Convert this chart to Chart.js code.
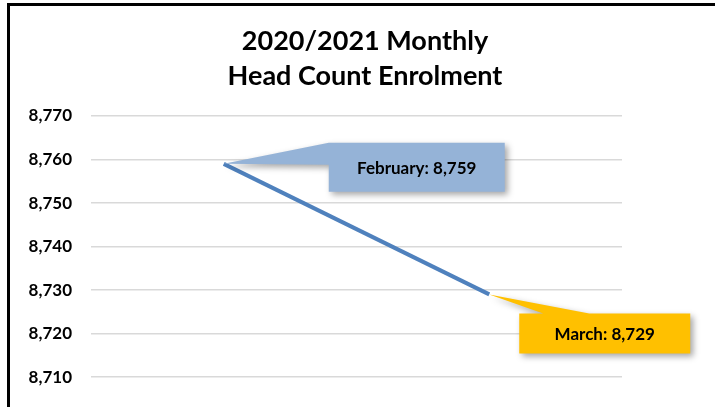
<!DOCTYPE html>
<html>
<head>
<meta charset="utf-8">
<script src="https://cdn.jsdelivr.net/npm/chart.js@4.4.0/dist/chart.umd.min.js"></script>
<style>
  html, body { margin: 0; padding: 0; background: #fff; overflow: hidden; }
  #wrap { position: relative; width: 715px; height: 457px; }
  #frame {
    position: absolute; left: 7px; top: 3px; width: 800px; height: 600px;
    border-left: 3px solid #000; border-top: 3px solid #000; pointer-events: none;
  }
</style>
</head>
<body>
<div id="wrap">
  <canvas id="chart" width="715" height="457"></canvas>
  <div id="frame"></div>
</div>
<script>
// chart data
const months = ['February', 'March'];
const headCount = [8759, 8729];
const yTicks = [8700, 8710, 8720, 8730, 8740, 8750, 8760, 8770];
const titleLines = ['2020/2021 Monthly', 'Head Count Enrolment'];

const FONT = 'Lato, "Open Sans", sans-serif';

// callout boxes next to each point (offsets from the point, style only)
const calloutStyle = [
    { fill: '#95B3D7', dx: 105, dy: -21, w: 176, h: 49, wedge: 'left', base: [0, 22] },
    { fill: '#FFC000', dx: 30, dy: 19, w: 171, h: 40, wedge: 'top', base: [24, 70] }
];

// title drawn over the whole canvas width (Excel centres it on the chart, not the plot)
const titlePlugin = {
    id: 'bigTitle',
    afterDraw(chart) {
        const ctx = chart.ctx;
        ctx.save();
        ctx.fillStyle = '#000';
        ctx.font = 'bold 27px ' + FONT;
        ctx.textAlign = 'center';
        ctx.textBaseline = 'middle';
        titleLines.forEach((t, i) => ctx.fillText(t, 365, 41 + i * 35));
        ctx.restore();
    }
};

const calloutPlugin = {
    id: 'callouts',
    afterDatasetsDraw(chart) {
        const ctx = chart.ctx;
        const meta = chart.getDatasetMeta(0);
        meta.data.forEach((pt, i) => {
            const s = calloutStyle[i];
            const x0 = pt.x + s.dx, y0 = pt.y + s.dy;
            ctx.save();
            ctx.beginPath();
            if (s.wedge === 'left') {
                ctx.moveTo(x0, y0);
                ctx.lineTo(x0 + s.w, y0);
                ctx.lineTo(x0 + s.w, y0 + s.h);
                ctx.lineTo(x0, y0 + s.h);
                ctx.lineTo(x0, y0 + s.base[1]);
                ctx.lineTo(pt.x, pt.y);
                ctx.lineTo(x0, y0 + s.base[0]);
            } else {
                ctx.moveTo(x0, y0);
                ctx.lineTo(x0 + s.base[0], y0);
                ctx.lineTo(pt.x, pt.y);
                ctx.lineTo(x0 + s.base[1], y0);
                ctx.lineTo(x0 + s.w, y0);
                ctx.lineTo(x0 + s.w, y0 + s.h);
                ctx.lineTo(x0, y0 + s.h);
            }
            ctx.closePath();
            ctx.shadowColor = 'rgba(0,0,0,0.35)';
            ctx.shadowBlur = 6;
            ctx.shadowOffsetX = 3;
            ctx.shadowOffsetY = 3;
            ctx.fillStyle = s.fill;
            ctx.fill();
            ctx.restore();

            ctx.save();
            ctx.fillStyle = '#000';
            ctx.font = 'bold 17px ' + FONT;
            ctx.textAlign = 'center';
            ctx.textBaseline = 'middle';
            const label = months[i] + ': ' + headCount[i].toLocaleString('en-US');
            ctx.fillText(label, x0 + s.w / 2, y0 + s.h / 2 + 1);
            ctx.restore();
        });
    }
};

const ctx = document.getElementById('chart').getContext('2d');
new Chart(ctx, {
    type: 'line',
    data: {
        labels: months,
        datasets: [{
            data: headCount,
            borderColor: '#4F81BD',
            borderWidth: 4,
            pointRadius: 0,
            pointHoverRadius: 0,
            tension: 0,
            fill: false
        }]
    },
    options: {
        responsive: false,
        animation: false,
        layout: { padding: { left: 0, right: 93, top: 116, bottom: 0 } },
        plugins: {
            legend: { display: false },
            tooltip: { enabled: false },
            title: { display: false }
        },
        scales: {
            x: {
                offset: true,
                grid: { display: false, drawTicks: false },
                border: { display: false },
                ticks: { color: '#000', font: { family: FONT, size: 17, weight: 'bold' }, padding: 8 }
            },
            y: {
                min: 8700,
                max: 8770,
                afterBuildTicks(scale) {
                    scale.ticks = yTicks.map(v => ({ value: v }));
                },
                afterFit(scale) { scale.width = 91; },
                grid: { color: '#D9D9D9', lineWidth: 1.5, drawTicks: false },
                border: { display: false },
                ticks: {
                    color: '#000',
                    padding: 19,
                    font: { family: FONT, size: 17, weight: 'bold' },
                    callback: v => v.toLocaleString('en-US')
                }
            }
        }
    },
    plugins: [calloutPlugin, titlePlugin]
});
</script>
</body>
</html>
